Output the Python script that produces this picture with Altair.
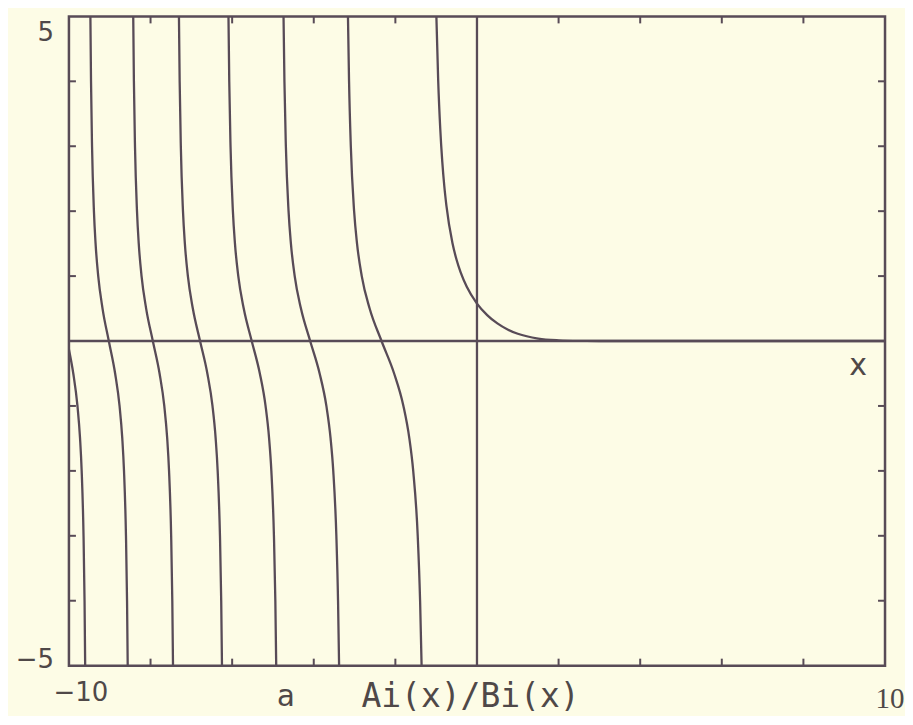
import altair as alt
import pandas as pd

# ---------------- data ----------------
X_DOMAIN = [-10, 10]
Y_DOMAIN = [-5, 5]

# rightmost branch (to the right of the first pole near x = -1.17)
b0_x = [-0.995, -0.95, -0.9, -0.85, -0.8, -0.75, -0.6, -0.5, -0.4, -0.25, 0.0,
        0.25, 0.5, 0.75, 1.0, 1.5, 2.0, 2.5, 3.0, 4.0, 10.0]
b0_y = [5.0, 4.0, 3.27, 2.76, 2.38, 2.09, 1.505, 1.251, 1.056, 0.835, 0.577,
        0.400, 0.271, 0.178, 0.112, 0.038, 0.011, 0.0024, 0.0005, 0.0, 0.0]

# branches between the poles: common y levels, x read for each level
Y_LEVELS = [5, 4, 3, 2, 1.5, 1, 0.5, 0, -0.5, -1, -1.5, -2, -3, -4, -5]
b1_x = [-3.1618, -3.1351, -3.0919, -3.0111, -2.9394, -2.8239, -2.6305, -2.3393,
        -2.0303, -1.8029, -1.6572, -1.5627, -1.4522, -1.3940, -1.3570]
b2_x = [-4.7407, -4.7188, -4.6835, -4.6178, -4.5598, -4.4671, -4.3138, -4.0880,
        -3.8560, -3.6908, -3.5877, -3.5220, -3.4462, -3.4049, -3.3792]
b3_x = [-6.0902, -6.0709, -6.0397, -5.9819, -5.9310, -5.8497, -5.7160, -5.5206,
        -5.3216, -5.1814, -5.0944, -5.0392, -4.9759, -4.9415, -4.9201]
b4_x = [-7.3039, -7.2863, -7.2579, -7.2051, -7.1587, -7.0848, -6.9635, -6.7867,
        -6.6076, -6.4819, -6.4042, -6.3550, -6.2987, -6.2680, -6.2490]
b5_x = [-8.4241, -8.4077, -8.3812, -8.3321, -8.2890, -8.2203, -8.1077, -7.9441,
        -7.7788, -7.6631, -7.5916, -7.5464, -7.4947, -7.4667, -7.4492]
b6_x = [-9.4742, -9.4587, -9.4338, -9.3875, -9.3469, -9.2822, -9.1763, -9.0227,
        -8.8677, -8.7593, -8.6925, -8.6503, -8.6020, -8.5758, -8.5595]

# leftmost, partly visible branch
b7_x = [-10.0, -9.8933, -9.7908, -9.7276, -9.6877, -9.6421, -9.6173, -9.6020]
b7_y = [-0.13, -0.5, -1.0, -1.5, -2.0, -3.0, -4.0, -5.0]

X_TICKS = [-8, -6, -4, -2, 2, 4, 6, 8]
Y_TICKS = [-4, -3, -2, -1, 1, 2, 3, 4]

LABEL_Y_TOP = "5"
LABEL_Y_BOTTOM = "\u22125"
LABEL_X_LEFT = "\u221210"
LABEL_X_RIGHT = "10"
LABEL_X_AXIS = "x"
PANEL_LETTER = "a"
TITLE = "Ai(x)/Bi(x)"

# ---------------- table ----------------
rows = []
for xv, yv in zip(b0_x, b0_y):
    rows.append({"x": xv, "y": yv, "branch": "b0"})
for name, xs in [("b1", b1_x), ("b2", b2_x), ("b3", b3_x), ("b4", b4_x),
                 ("b5", b5_x), ("b6", b6_x)]:
    for xv, yv in zip(xs, Y_LEVELS):
        rows.append({"x": xv, "y": yv, "branch": name})
for xv, yv in zip(b7_x, b7_y):
    rows.append({"x": xv, "y": yv, "branch": "b7"})
df = pd.DataFrame(rows)

W, H = 817, 650
INK = "#584b57"
TXT = "#4f4848"
BG = "#fdfce6"
TL = 7

xs = alt.Scale(domain=X_DOMAIN, nice=False, zero=False)
ys = alt.Scale(domain=Y_DOMAIN, nice=False, zero=False)

curves = alt.Chart(df).mark_line(
    clip=True, interpolate="monotone", strokeWidth=2.3, color=INK
).encode(
    x=alt.X("x:Q", scale=xs, axis=None),
    y=alt.Y("y:Q", scale=ys, axis=None),
    detail="branch:N",
    order="x:Q",
)

zero = pd.DataFrame({"v": [0]})
vaxis = alt.Chart(zero).mark_rule(color=INK, strokeWidth=2.3).encode(
    x=alt.X("v:Q", scale=xs, axis=None))
haxis = alt.Chart(zero).mark_rule(color=INK, strokeWidth=2.3).encode(
    y=alt.Y("v:Q", scale=ys, axis=None))

xt = pd.DataFrame({"t": X_TICKS})
yt = pd.DataFrame({"t": Y_TICKS})
top_t = alt.Chart(xt).mark_rule(color=INK, strokeWidth=2).encode(
    x=alt.X("t:Q", scale=xs, axis=None), y=alt.value(0), y2=alt.value(TL))
bot_t = alt.Chart(xt).mark_rule(color=INK, strokeWidth=2).encode(
    x=alt.X("t:Q", scale=xs, axis=None), y=alt.value(H), y2=alt.value(H - TL))
left_t = alt.Chart(yt).mark_rule(color=INK, strokeWidth=2).encode(
    y=alt.Y("t:Q", scale=ys, axis=None), x=alt.value(0), x2=alt.value(TL))
right_t = alt.Chart(yt).mark_rule(color=INK, strokeWidth=2).encode(
    y=alt.Y("t:Q", scale=ys, axis=None), x=alt.value(W), x2=alt.value(W - TL))


def label(text, px, py, size, font="DejaVu Sans", align="center"):
    return alt.Chart(pd.DataFrame({"t": [text]})).mark_text(
        font=font, fontSize=size, color=TXT, align=align, baseline="middle"
    ).encode(text="t:N", x=alt.value(px), y=alt.value(py))


texts = [
    label(LABEL_Y_TOP, -15, 17, 26, align="right"),
    label(LABEL_Y_BOTTOM, -15, 644, 26, align="right"),
    label(LABEL_X_LEFT, 12, 677, 26),
    label(LABEL_X_RIGHT, 822, 683, 29, font="Liberation Serif"),
    label(LABEL_X_AXIS, 790, 350, 30),
    label(PANEL_LETTER, 217, 681, 30, font="DejaVu Sans Mono"),
    label(TITLE, 402, 681, 33, font="DejaVu Sans Mono"),
]

chart = alt.layer(
    haxis, vaxis, top_t, bot_t, left_t, right_t, curves, *texts
).properties(
    width=W, height=H,
    padding={"left": 61, "top": 8, "right": 20, "bottom": 50},
    autosize=alt.AutoSizeParams(type="none"),
    background=BG,
).configure_view(stroke=INK, strokeWidth=2.5)

chart.save("out.html", embed_options={"renderer": "svg", "actions": False})
